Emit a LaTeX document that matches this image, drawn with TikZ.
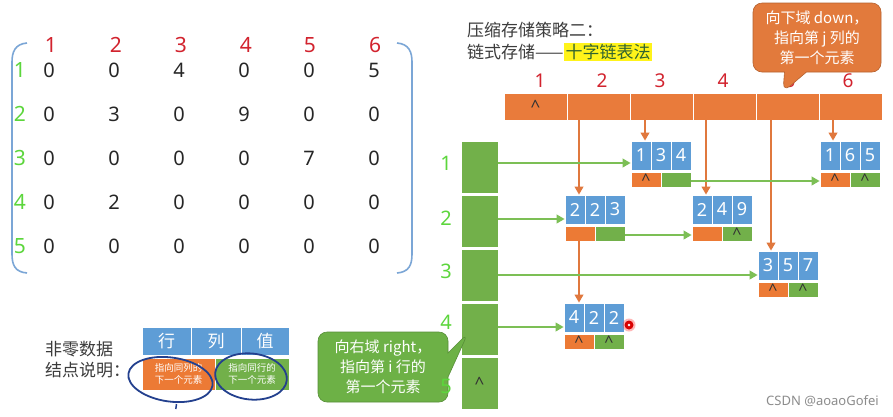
\documentclass[tikz,border=0pt]{standalone}
\usepackage{fontspec}
\setmainfont{Noto Sans}
\newfontfamily\cjk{Noto Sans CJK SC}
\usetikzlibrary{shapes.callouts,arrows.meta}
\definecolor{horange}{HTML}{E97B3B}
\definecolor{norange}{HTML}{EC7A35}
\definecolor{ngreen}{HTML}{72B04A}
\definecolor{nblue}{HTML}{5E9DD6}
\definecolor{aorange}{HTML}{E0783E}
\definecolor{agreen}{HTML}{7CBF55}
\definecolor{bracketblue}{HTML}{7BA6D6}
\definecolor{hred}{HTML}{D2232E}
\definecolor{hgreen}{HTML}{5CD63C}
\definecolor{txtgray}{HTML}{3C3C3C}
\definecolor{penblue}{HTML}{23408E}
\definecolor{corange}{HTML}{E27A3C}
\definecolor{cgreen}{HTML}{6DB146}
\newcommand\crt{\raisebox{-0.32em}{\textasciicircum}}
\tikzset{
  caret/.style={font=\fontsize{17}{17}\selectfont\bfseries, text=black!80},
  hcell/.style={fill=horange, draw=white, line width=0.7pt, minimum width=63pt, minimum height=27pt, inner sep=0pt},
  rcell/.style={fill=ngreen, draw=white, line width=0.9pt, minimum width=37pt, minimum height=52pt, inner sep=0pt},
  bcell/.style={fill=nblue, draw=white, line width=0.7pt, minimum width=20pt, minimum height=29pt, inner sep=0pt, text=white, font=\fontsize{18}{18}\selectfont\bfseries},
  ocell/.style={fill=norange, draw=white, line width=0.7pt, minimum width=30pt, minimum height=15pt, inner sep=0pt, font=\fontsize{16}{16}\selectfont\bfseries, text=black!80},
  gcell/.style={fill=ngreen, draw=white, line width=0.7pt, minimum width=30pt, minimum height=15pt, inner sep=0pt, font=\fontsize{16}{16}\selectfont\bfseries, text=black!80},
  oarr/.style={draw=aorange, line width=2.4pt, -{Triangle[length=8pt,width=8.5pt]}},
  garr/.style={draw=agreen, line width=2.4pt, -{Triangle[length=8pt,width=8.5pt]}},
  mnum/.style={font=\fontsize{20}{20}\selectfont, text=black!85, inner sep=0pt},
  colnum/.style={font=\fontsize{21}{21}\selectfont, text=hred, inner sep=0pt},
  rownum/.style={font=\fontsize{21}{21}\selectfont, text=hgreen, inner sep=0pt},
  lcell/.style={fill=nblue, draw=white, line width=0.7pt, minimum height=28pt, inner sep=0pt, text=white, font=\cjk\fontsize{17}{17}\selectfont},
  lsmall/.style={draw=white, line width=0.7pt, minimum height=32pt, inner sep=0pt, text=white, align=center, font=\cjk\fontsize{9.5}{12}\selectfont},
}
\newcommand\mkdatanode[8]{%
  \node[bcell] (#1-a) at ({#2+10},{#3+14.5}) {#4};
  \node[bcell] (#1-b) at ({#2+30},{#3+14.5}) {#5};
  \node[bcell] (#1-c) at ({#2+50},{#3+14.5}) {#6};
  \node[ocell] (#1-o) at ({#2+15},{#3+38.5}) {#7};
  \node[gcell] (#1-g) at ({#2+45},{#3+38.5}) {#8};
}
\begin{document}
\begin{tikzpicture}[x=1pt,y=-1pt]
\useasboundingbox (0,0) rectangle (893,416);
\fill[white] (0,0) rectangle (893,416);

% ---------- matrix ----------
\foreach \c/\x in {1/49,2/114,3/179,4/244,5/308,6/373}{
  \node[colnum] (mc\c) at (\x+2,45) {\c};
}
\foreach \r/\y in {1/70,2/114,3/158,4/202,5/246}{
  \node[rownum] (mr\r) at (20,\y) {\r};
}
\foreach \r/\y/\vals in {1/70/{0,0,4,0,0,5},2/114/{0,3,0,9,0,0},3/158/{0,0,0,0,7,0},4/202/{0,2,0,0,0,0},5/246/{0,0,0,0,0,0}}{
  \foreach \v [count=\c] in \vals {
    \pgfmathsetmacro\xx{49+65*(\c-1)}
    \node[mnum] (m\r\c) at (\xx,\y) {\v};
  }
}
\draw[bracketblue, line width=1.6pt] (27,43) .. controls (15,44) and (12,52) .. (12,62) -- (12,254) .. controls (12,265) and (15,272) .. (27,273);
\draw[bracketblue, line width=1.6pt] (397,43) .. controls (409,44) and (412,52) .. (412,62) -- (412,254) .. controls (412,265) and (409,272) .. (397,273);

% ---------- title ----------
\node[anchor=west, inner sep=0pt, text=txtgray, font=\cjk\fontsize{17}{17}\selectfont] (t1) at (467,30) {压缩存储策略二：};
\node[anchor=west, inner sep=0pt, text=txtgray, font=\cjk\fontsize{17}{17}\selectfont] (t2) at (467,52) {链式存储——};
\node[anchor=west, inner sep=1.5pt, fill=yellow!90!white, text=txtgray!80!green, font=\cjk\fontsize{17}{17}\selectfont] (t3) at (t2.east) {十字链表法};

% ---------- column header array ----------
\foreach \i in {1,...,6}{
  \node[hcell] (h\i) at ({504+63*(\i-1)+31.5},106.5) {};
}
\node[caret] at (h1) {\crt};
\foreach \i/\x in {1/540,2/602,3/660,4/723,5/790,6/848}{
  \node[colnum, font=\fontsize{19}{19}\selectfont] (hn\i) at (\x,81) {\i};
}

% ---------- row header array ----------
\foreach \i in {1,...,5}{
  \node[rcell] (r\i) at (479.5,{167+54*(\i-1)}) {};
}
\node[caret] at (r5) {\crt};

% ---------- data nodes ----------
\mkdatanode{n134}{631}{141}{1}{3}{4}{\crt}{}
\mkdatanode{n165}{820}{141}{1}{6}{5}{\crt}{\crt}
\mkdatanode{n223}{565}{195}{2}{2}{3}{}{}
\mkdatanode{n249}{692}{195}{2}{4}{9}{}{\crt}
\mkdatanode{n357}{758}{251}{3}{5}{7}{\crt}{\crt}
\mkdatanode{n422}{564}{303}{4}{2}{2}{\crt}{\crt}

% ---------- orange (down) arrows ----------
\draw[oarr] ([xshift=-1pt]n223-o |- h2.south) -- ([xshift=-1pt]n223-o |- n223-a.north);
\draw[oarr] ([xshift=-1pt]n134-o |- h3.south) -- ([xshift=-1pt]n134-o |- n134-a.north);
\draw[oarr] ([xshift=-1pt]n249-o |- h4.south) -- ([xshift=-1pt]n249-o |- n249-a.north);
\draw[oarr] ([xshift=-2pt]n357-o |- h5.south) -- ([xshift=-2pt]n357-o |- n357-a.north);
\draw[oarr] ([xshift=-2pt]n165-o |- h6.south) -- ([xshift=-2pt]n165-o |- n165-a.north);
\draw[oarr] ([xshift=-1pt]n223-o.south) -- ([xshift=-1pt]n223-o.south |- n422-a.north);

% ---------- green (right) arrows ----------
\draw[garr] ([yshift=4pt]r1.east) -- ([yshift=4pt]r1.east -| n134-a.west);
\draw[garr] ([yshift=2pt]r2.east) -- ([yshift=2pt]r2.east -| n223-a.west);
\draw[garr] (r3.east) -- (r3.east -| n357-a.west);
\draw[garr] ([yshift=2pt]r4.east) -- ([yshift=2pt]r4.east -| n422-a.west);
\draw[garr] ([yshift=-1.5pt]n134-g.east) -- ([yshift=-1.5pt]n134-g.east -| n165-o.west);
\draw[garr] ([yshift=-1.5pt]n223-g.east) -- ([yshift=-1.5pt]n223-g.east -| n249-o.west);

% ---------- red pointer dot ----------
\fill[red!80!white, opacity=0.35] (629,325) circle (6.5pt);
\fill[red!85!black] (629,325) circle (4.5pt);
\fill[white] (629,325) circle (1.3pt);

% ---------- callouts ----------
\node[rectangle callout, callout absolute pointer={(783,92)}, callout pointer width=22pt,
  fill=corange, draw=corange!80!black, line width=0.6pt, rounded corners=9pt,
  minimum width=128pt, minimum height=69pt, text=white, align=center, inner sep=2pt,
  font=\cjk\fontsize{15}{20}\selectfont] (co1) at (817,37.5) {向下域 down，\\指向第 j 列的\\第一个元素};
\node[rectangle callout, callout absolute pointer={(468,333)}, callout pointer width=24pt,
  fill=cgreen, draw=cgreen!80!black, line width=0.6pt, rounded corners=9pt,
  minimum width=130pt, minimum height=70pt, text=white, align=center, inner sep=2pt,
  font=\cjk\fontsize{15}{20}\selectfont] (co2) at (383,367) {向右域 right，\\指向第 i 行的\\第一个元素};

% row labels of the row array
\foreach \i/\y in {1/163,2/218,3/271,4/322,5/386}{
  \node[rownum, font=\fontsize{20}{20}\selectfont] (rl\i) at (446,\y) {\i};
}

% ---------- legend ----------
\node[anchor=west, inner sep=0pt, text=txtgray, font=\cjk\fontsize{17}{17}\selectfont] (lg1) at (45,349) {非零数据};
\node[anchor=west, inner sep=0pt, text=txtgray, font=\cjk\fontsize{17}{17}\selectfont] (lg2) at (45,370) {结点说明：};
\node[lcell, minimum width=49pt] (lr) at (166.5,341) {行};
\node[lcell, minimum width=50pt] (lc) at (216,341) {列};
\node[lcell, minimum width=48pt] (lv) at (265,341) {值};
\node[lsmall, fill=norange, minimum width=73pt] (ld) at (178.5,374) {指向同列的\\下一个元素};
\node[lsmall, fill=ngreen, minimum width=74pt] (lrt) at (252,374) {指向同行的\\下一个元素};
\draw[penblue, line width=1.8pt, rotate around={-8:(170.5,379.5)}] (170.5,379.5) ellipse [x radius=42.5pt, y radius=22pt];
\draw[penblue, line width=1.8pt, rotate around={-6:(251,376.5)}] (251,376.5) ellipse [x radius=36pt, y radius=23pt];
\draw[penblue, line width=1.5pt] (176.5,404) -- (175.8,409);

% ---------- watermark ----------
\node[anchor=east, inner sep=0pt, text=black!45, font=\fontsize{13}{13}\selectfont] (wm) at (879,401) {CSDN @aoaoGofei};
\end{tikzpicture}
\end{document}
